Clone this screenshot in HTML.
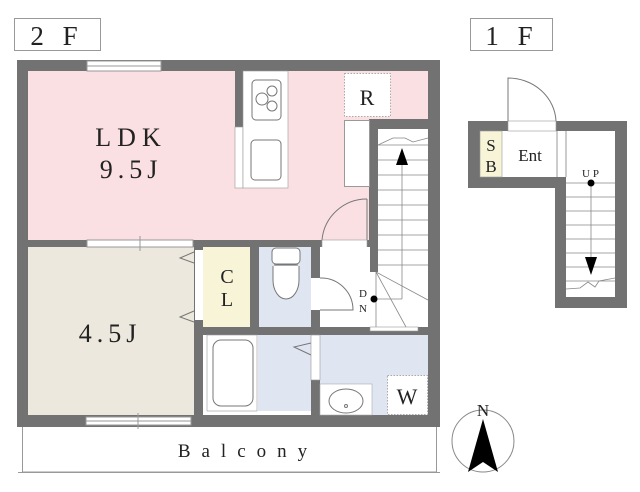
<!DOCTYPE html>
<html><head><meta charset="utf-8"><style>
html,body{margin:0;padding:0;background:#fff;width:640px;height:492px;overflow:hidden}
svg{display:block}
text{font-family:"Liberation Serif",serif;fill:#222}
</style></head><body>
<svg width="640" height="492" viewBox="0 0 640 492" xmlns="http://www.w3.org/2000/svg">
<!-- labels -->
<rect x="14.5" y="18.5" width="86" height="32" fill="#fff" stroke="#999"/>
<text x="57" y="45" font-size="27" text-anchor="middle" letter-spacing="6">2 F</text>
<rect x="470.5" y="18.5" width="82" height="32" fill="#fff" stroke="#999"/>
<text x="512" y="45" font-size="27" text-anchor="middle" letter-spacing="6">1 F</text>

<!-- balcony -->
<rect x="22.5" y="425" width="414" height="47" fill="#fff" stroke="#999"/>
<line x1="18" y1="472.5" x2="440" y2="472.5" stroke="#999"/>
<text x="248" y="457" font-size="19" text-anchor="middle" letter-spacing="11">Balcony</text>

<!-- 2F walls -->
<rect x="17" y="60" width="423" height="367" fill="#727272"/>
<!-- LDK -->
<rect x="28" y="71" width="400" height="169" fill="#fbe0e3"/>
<!-- stair area -->
<rect x="369" y="119" width="59" height="10" fill="#727272"/>
<rect x="369" y="119" width="9" height="153" fill="#727272"/>
<rect x="378" y="129" width="50" height="198" fill="#fff"/>
<!-- kitchen -->
<rect x="235" y="71" width="8" height="56" fill="#727272"/>
<rect x="235" y="127" width="8" height="61" fill="#fff" stroke="#999" stroke-width="0.6"/>
<rect x="243" y="71" width="45" height="117" fill="#fff" stroke="#999" stroke-width="0.6"/>
<rect x="252" y="80" width="29" height="40" rx="4" fill="#fff" stroke="#777"/>
<circle cx="262" cy="99" r="6" fill="none" stroke="#777"/>
<circle cx="272" cy="91" r="5" fill="none" stroke="#777"/>
<circle cx="272" cy="106" r="5" fill="none" stroke="#777"/>
<rect x="251" y="140" width="30" height="40" rx="4" fill="#fff" stroke="#777"/>
<!-- R -->
<rect x="344.5" y="73.5" width="46" height="43" fill="#fff" stroke="#aaa" stroke-dasharray="1.5 1.5"/>
<text x="367" y="105" font-size="22" text-anchor="middle">R</text>
<rect x="344.5" y="120.5" width="25" height="66" fill="#fff" stroke="#999"/>
<text x="131" y="146" font-size="26" text-anchor="middle" letter-spacing="6">LDK</text>
<text x="131" y="178" font-size="26" text-anchor="middle" letter-spacing="5">9.5J</text>
<!-- door arc LDK -->
<path d="M367 199 A45 45 0 0 0 322 240" fill="none" stroke="#777"/>
<line x1="367" y1="199" x2="367" y2="240" stroke="#777"/>
<rect x="322" y="240" width="45" height="8" fill="#fff" stroke="#999" stroke-width="0.6"/>
<!-- top window -->
<rect x="87" y="61" width="74" height="10" fill="#fff" stroke="#999"/>
<line x1="87" y1="66" x2="161" y2="66" stroke="#999"/>

<!-- lower rooms -->
<rect x="28" y="247" width="166" height="168" fill="#ede8dd"/>
<rect x="203" y="247" width="47" height="80" fill="#f7f4d8"/>
<rect x="195" y="250" width="8" height="70" fill="#fff"/>
<rect x="259" y="247" width="52" height="80" fill="#dfe6f2"/>
<rect x="320" y="247" width="50" height="80" fill="#fff"/>
<rect x="370" y="272" width="58" height="55" fill="#fff"/>
<rect x="203" y="335" width="108" height="80" fill="#fff"/>
<rect x="258" y="335" width="53" height="76" fill="#dfe6f2"/>
<rect x="320" y="335" width="108" height="80" fill="#dfe6f2"/>
<rect x="320" y="384" width="52" height="31" fill="#fff" stroke="#aaa" stroke-width="0.6"/>
<ellipse cx="346" cy="401" rx="17" ry="12" fill="#fff" stroke="#777"/>
<circle cx="346" cy="406" r="1.5" fill="none" stroke="#777"/>
<rect x="387.5" y="375.5" width="40" height="39" fill="#fff" stroke="#aaa" stroke-dasharray="1.5 1.5"/>
<text x="407" y="404" font-size="22" text-anchor="middle">W</text>
<!-- tub -->
<rect x="207" y="335" width="50" height="76" fill="#fff" stroke="#999" stroke-width="0.6"/>
<rect x="213" y="340" width="40" height="66" rx="8" fill="#fff" stroke="#777"/>
<!-- toilet -->
<rect x="272" y="248" width="28" height="16" rx="4" fill="#fff" stroke="#777"/>
<line x1="274" y1="265" x2="298" y2="265" stroke="#777"/>
<path d="M273 266 L273 280 A13 19 0 0 0 299 280 L299 266" fill="#fff" stroke="#777"/>
<!-- doors sliding -->
<path d="M194 252 L180 258 L194 263 M194 311 L180 317 L194 322" fill="none" stroke="#777"/>
<path d="M311 343 L294 347 L311 355" fill="none" stroke="#777"/>
<rect x="311" y="335" width="9" height="45" fill="#fff" stroke="#999" stroke-width="0.6"/>
<!-- WC door -->
<rect x="311" y="278" width="9" height="32" fill="#fff"/>
<path d="M320 278 A32 32 0 0 1 353 310 L320 310" fill="none" stroke="#777"/>
<!-- stairs lines -->
<g stroke="#888" stroke-width="0.8">
<line x1="378" y1="145" x2="428" y2="145"/>
<line x1="378" y1="160" x2="428" y2="160"/>
<line x1="378" y1="175" x2="428" y2="175"/>
<line x1="378" y1="190" x2="428" y2="190"/>
<line x1="378" y1="205" x2="428" y2="205"/>
<line x1="378" y1="220" x2="428" y2="220"/>
<line x1="378" y1="235" x2="428" y2="235"/>
<line x1="378" y1="250" x2="428" y2="250"/>
<line x1="378" y1="265" x2="428" y2="265"/>
<line x1="402" y1="150" x2="402" y2="299"/>
<line x1="376" y1="299" x2="402" y2="299"/>
<line x1="376" y1="272" x2="428" y2="300"/>
<line x1="376" y1="272" x2="406" y2="327"/>
<line x1="376" y1="272" x2="376" y2="327"/>
<polyline points="378,145 393,138 405,138 413,142 428,138" fill="none"/>
</g>
<polygon points="402,148 396,165 408,165" fill="#000"/>
<circle cx="374" cy="299" r="3.5" fill="#000"/>
<text x="363" y="297" font-size="11" text-anchor="middle">D</text>
<text x="363" y="312" font-size="11" text-anchor="middle">N</text>
<text x="227" y="283" font-size="20" text-anchor="middle">C</text>
<text x="227" y="306" font-size="20" text-anchor="middle">L</text>
<text x="110" y="342" font-size="26" text-anchor="middle" letter-spacing="5">4.5J</text>
<!-- windows mid/bottom -->
<rect x="87" y="240" width="106" height="7" fill="#fff" stroke="#999"/>
<line x1="140" y1="236" x2="140" y2="251" stroke="#999"/>
<rect x="86" y="417" width="105" height="8" fill="#fff" stroke="#999"/>
<line x1="86" y1="421" x2="191" y2="421" stroke="#999"/>
<line x1="138" y1="413" x2="138" y2="429" stroke="#999"/>
<rect x="370" y="327" width="48" height="4" fill="#fff" stroke="#999" stroke-width="0.6"/>

<!-- 1F -->
<path d="M468 121 H627 V308 H555 V188 H468 Z" fill="#727272"/>
<rect x="480" y="131" width="77" height="46" fill="#fff"/>
<rect x="566" y="131" width="49" height="166" fill="#fff"/>
<rect x="555" y="131" width="11" height="46" fill="#fff"/>
<rect x="480" y="131" width="22" height="46" fill="#f7f4d8" stroke="#999" stroke-width="0.6"/>
<line x1="557" y1="131" x2="557" y2="177" stroke="#999"/>
<line x1="566" y1="131" x2="566" y2="177" stroke="#999"/>
<text x="491" y="151" font-size="17" text-anchor="middle">S</text>
<text x="491" y="172" font-size="17" text-anchor="middle">B</text>
<text x="530" y="161" font-size="17" text-anchor="middle">Ent</text>
<rect x="508" y="121" width="48" height="10" fill="#fff" stroke="#999" stroke-width="0.6"/>
<path d="M508 121 V78 A48 45 0 0 1 556 121" fill="none" stroke="#777"/>
<g stroke="#888" stroke-width="0.8">
<line x1="566" y1="183" x2="615" y2="183"/>
<line x1="566" y1="197" x2="615" y2="197"/>
<line x1="566" y1="211" x2="615" y2="211"/>
<line x1="566" y1="225" x2="615" y2="225"/>
<line x1="566" y1="239" x2="615" y2="239"/>
<line x1="566" y1="253" x2="615" y2="253"/>
<line x1="566" y1="267" x2="615" y2="267"/>
<line x1="566" y1="281" x2="615" y2="281"/>
<line x1="591" y1="183" x2="591" y2="265"/>
<polyline points="566,289 580,288 588,282 595,287 599,281 615,278" fill="none"/>
</g>
<circle cx="591" cy="183" r="3.5" fill="#000"/>
<polygon points="585,257 597,257 591,275" fill="#000"/>
<text x="592" y="177" font-size="11" text-anchor="middle" letter-spacing="3">UP</text>

<!-- compass -->
<circle cx="483" cy="441" r="31" fill="#fff" stroke="#888"/>
<polygon points="483,419 468,472 483,462 498,472" fill="#000"/>
<text x="483" y="416" font-size="17" text-anchor="middle">N</text>
</svg>
</body></html>
